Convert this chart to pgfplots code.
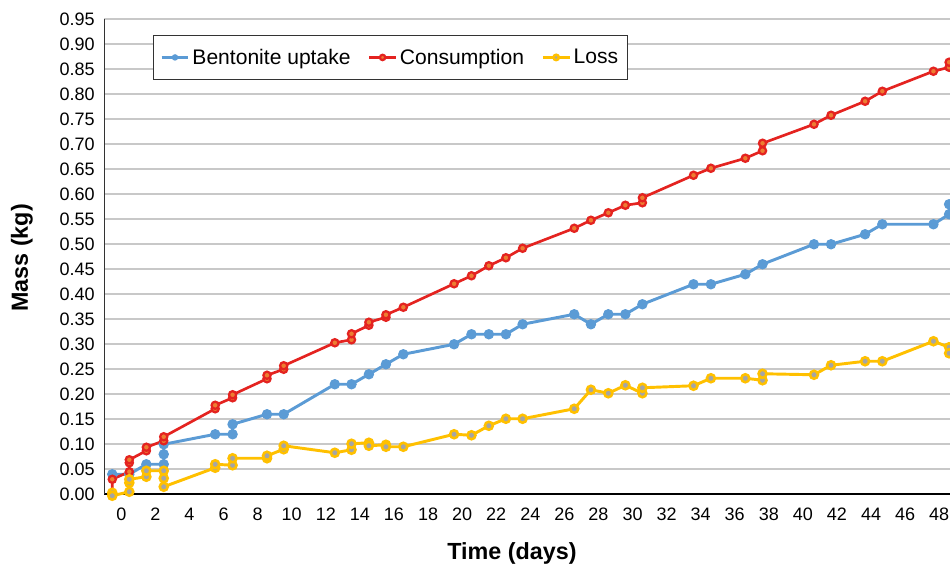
\documentclass[border=0pt]{standalone}
\usepackage{pgfplots}
\pgfplotsset{compat=1.18}
\usepackage{fontspec}
\setmainfont{Liberation Sans}

\definecolor{cblue}{HTML}{5B9BD5}
\definecolor{cred}{HTML}{E42320}
\definecolor{corange}{HTML}{ED7D31}
\definecolor{cyellow}{HTML}{FFC000}
\definecolor{cgrey}{HTML}{A5A5A5}
\definecolor{cgrid}{HTML}{C8C8C8}

\begin{document}
\begin{tikzpicture}
    % 1 px of the reference = 0.75pt
    \useasboundingbox (0,0) rectangle (712.5pt,427.5pt);
    \clip (0,0) rectangle (712.5pt,427.5pt);
    \begin{axis}[
            at={(78.2pt,56.8pt)}, anchor=south west,
            scale only axis,
            width=639pt, height=356.25pt,
            xmin=-1, xmax=49,
            ymin=0, ymax=0.95,
            clip=false,
            axis x line*=bottom, axis y line*=left,
            x axis line style={black, line width=1.2pt},
            y axis line style={black!80, line width=1pt},
            xtick={0,2,...,48},
            minor xtick={-1,1,...,49},
            major tick length=0pt,
            minor tick length=3.75pt,
            tick align=outside,
            minor x tick style={black, line width=0.9pt},
            ytick={0,0.05,0.10,0.15,0.20,0.25,0.30,0.35,0.40,0.45,0.50,0.55,0.60,0.65,0.70,0.75,0.80,0.85,0.90,0.95},
            ytick style={draw=none},
            xtick style={draw=none},
            ymajorgrids,
            major grid style={cgrid, line width=1.3pt},
            /pgf/number format/assume math mode=true,
            yticklabel={\pgfmathprintnumber[fixed,fixed zerofill,precision=2]{\tick}},
            ticklabel style={font=\fontsize{13.5}{16}\selectfont, inner sep=0pt},
            yticklabel style={anchor=east, xshift=-7pt},
            xticklabel style={anchor=center, yshift=-15pt},
            xlabel={Time (days)},
            ylabel={Mass (kg)},
            label style={font=\bfseries\fontsize{17.5}{20}\selectfont},
            xlabel style={at={(axis description cs:0.4785,-0.1236)}, anchor=center},
            ylabel style={at={(axis description cs:-0.0966,0.4975)}, anchor=center},
            legend style={at={(0.0572,0.967)}, anchor=north west,
                legend columns=3, draw=black!80, line width=0.8pt,
                font=\fontsize{15.8}{18}\selectfont,
                inner xsep=5pt, inner ysep=8pt,
                /tikz/every even column/.append style={column sep=11pt}},
            legend image code/.code={
                \draw[mark repeat=2, mark phase=2, mark size=2pt]
                plot coordinates {(0pt,0pt) (10pt,0pt) (20pt,0pt)};
            },
        ]
        % Bentonite uptake
        \addplot[cblue, line width=2.2pt, mark=*, mark size=3.5pt,
            mark options={fill=cblue, draw=cblue, line width=0.8pt}] coordinates {
                (-0.53,0.04) (0.47,0.04) (1.47,0.06) (2.49,0.06) (2.49,0.08) (2.49,0.10)
                (5.51,0.12) (6.53,0.12) (6.53,0.14) (8.55,0.16) (9.53,0.16)
                (12.53,0.22) (13.51,0.22) (14.53,0.24) (15.53,0.26) (16.55,0.28)
                (19.53,0.30) (20.55,0.32) (21.57,0.32) (22.57,0.32) (23.55,0.34)
                (26.58,0.36) (27.56,0.34) (28.58,0.36) (29.58,0.36) (30.58,0.38)
                (33.58,0.42) (34.60,0.42) (36.62,0.44) (37.63,0.46)
                (40.65,0.50) (41.65,0.50) (43.65,0.52) (44.66,0.54)
                (47.66,0.54) (48.58,0.56) (48.58,0.58)
            };
        % Consumption
        \addplot[cred, line width=2pt, mark=*, mark size=2.7pt,
            mark options={fill=corange, draw=cred, line width=1.7pt}] coordinates {
                (-0.53,0.0) (-0.53,0.03) (0.47,0.045) (0.47,0.063) (0.47,0.069)
                (1.47,0.087) (1.47,0.094) (2.49,0.107) (2.49,0.115)
                (5.51,0.171) (5.51,0.178) (6.53,0.193) (6.53,0.199)
                (8.55,0.231) (8.55,0.238) (9.53,0.250) (9.53,0.257)
                (12.53,0.303) (13.51,0.309) (13.51,0.321) (14.53,0.338) (14.53,0.344)
                (15.53,0.354) (15.53,0.359) (16.55,0.374)
                (19.53,0.421) (20.55,0.437) (21.57,0.457) (22.57,0.473) (23.55,0.492)
                (26.58,0.532) (27.56,0.548) (28.58,0.563) (29.58,0.578)
                (30.58,0.583) (30.58,0.593) (33.58,0.638) (34.60,0.652)
                (36.62,0.672) (37.63,0.687) (37.63,0.702)
                (40.65,0.740) (41.65,0.758) (43.65,0.786) (44.66,0.806)
                (47.66,0.846) (48.58,0.854) (48.58,0.864)
            };
        % Loss
        \addplot[cyellow, line width=2.2pt, mark=*, mark size=3pt,
            mark options={fill=cgrey, draw=cyellow, line width=1.9pt}] coordinates {
                (-0.53,0.003) (-0.53,-0.003) (0.47,0.005) (0.47,0.023) (0.47,0.030)
                (1.47,0.035) (1.47,0.047) (2.49,0.047) (2.49,0.032) (2.49,0.015)
                (5.51,0.053) (5.51,0.060) (6.53,0.058) (6.53,0.072)
                (8.55,0.072) (8.55,0.077) (9.53,0.090) (9.53,0.097)
                (12.53,0.083) (13.51,0.089) (13.51,0.101) (14.53,0.103) (14.53,0.097)
                (15.53,0.099) (15.53,0.095) (16.55,0.095)
                (19.53,0.120) (20.55,0.118) (21.57,0.137) (22.57,0.151) (23.55,0.151)
                (26.58,0.171) (27.56,0.209) (28.58,0.202) (29.58,0.218)
                (30.58,0.202) (30.58,0.213) (33.58,0.217) (34.60,0.232)
                (36.62,0.232) (37.63,0.228) (37.63,0.241)
                (40.65,0.239) (41.65,0.258) (43.65,0.266) (44.66,0.266)
                (47.66,0.306) (48.58,0.294) (48.58,0.282)
            };
        \legend{Bentonite uptake, Consumption, Loss}
    \end{axis}
\end{tikzpicture}
\end{document}
